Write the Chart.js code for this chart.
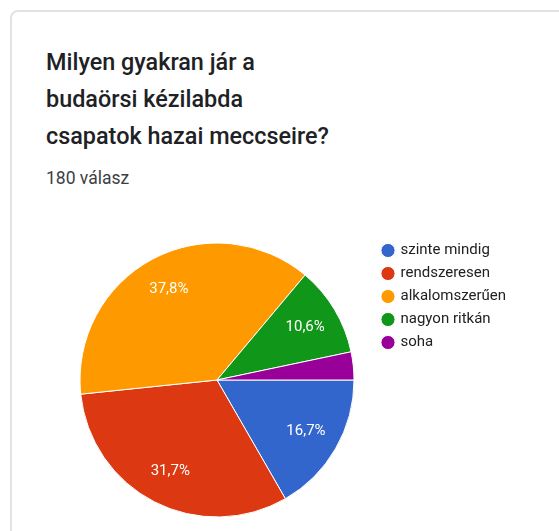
<!DOCTYPE html>
<html>
<head>
<meta charset="utf-8">
<script src="https://cdn.jsdelivr.net/npm/chart.js@4"></script>
<style>
  html, body { margin: 0; padding: 0; background: #fff; }
  body { width: 559px; height: 531px; position: relative; overflow: hidden; font-family: Roboto, "Noto Sans", sans-serif; }
  .kartya { position: absolute; left: 10px; top: 10px; width: 600px; height: 600px; border: 2px solid #e2e2e2; border-radius: 8px 0 0 0; box-sizing: border-box; }
  .cim { position: absolute; left: 46px; top: 44px; margin: 0; font-size: 23.4px; font-weight: 500; line-height: 37px; color: #202124; }
  .valasz { position: absolute; left: 46px; top: 168px; font-size: 17.5px; color: #3c4043; }
  #tarto { position: absolute; left: 59px; top: 235px; width: 500px; height: 290px; }
</style>
</head>
<body>
<div class="kartya"></div>
<h1 class="cim">Milyen gyakran jár a<br>budaörsi kézilabda<br>csapatok hazai meccseire?</h1>
<div class="valasz">180 válasz</div>
<div id="tarto"><canvas id="kor"></canvas></div>
<script>
// valaszok
const kategoriak = ['szinte mindig', 'rendszeresen', 'alkalomszerűen', 'nagyon ritkán', 'soha']
const szazalek = [16.7, 31.7, 37.8, 10.6, 3.3]
const szinek = ['#3366cc', '#dc3912', '#ff9900', '#109618', '#990099']

// jelmagyarazat szelessege, hogy a kor a helyen maradjon
const betuMeret = 15
const meres = document.createElement('canvas').getContext('2d')
meres.font = betuMeret + 'px Roboto, sans-serif'
let leghosszabb = 0
kategoriak.forEach(k => { leghosszabb = Math.max(leghosszabb, meres.measureText(k).width) })
const jelmagyarazat = 8 + 10 + betuMeret / 2 + leghosszabb + 10
const jobbMargo = Math.max(0, 500 - 316 - jelmagyarazat)

// szazalek felirat a szeletek belsejebe
const feliratok = {
    id: 'feliratok',
    afterDatasetsDraw(chart) {
        const c = chart.ctx
        const meta = chart.getDatasetMeta(0)
        c.save()
        c.fillStyle = '#fff'
        c.font = '15px Roboto, sans-serif'
        c.textAlign = 'center'
        c.textBaseline = 'middle'
        meta.data.forEach((arc, i) => {
            if (szazalek[i] < 5) return
            const szog = (arc.startAngle + arc.endAngle) / 2
            const r = arc.outerRadius * 0.75
            const x = arc.x + Math.cos(szog) * r
            const y = arc.y + Math.sin(szog) * r
            c.fillText(String(szazalek[i]).replace('.', ',') + '%', x, y)
        })
        c.restore()
    }
}

new Chart(document.getElementById('kor'), {
    type: 'pie',
    data: {
        labels: kategoriak,
        datasets: [{
            data: szazalek,
            backgroundColor: szinek,
            borderColor: '#fff',
            borderWidth: 1
        }]
    },
    options: {
        responsive: true,
        maintainAspectRatio: false,
        animation: false,
        rotation: 90,
        radius: 137,
        layout: { padding: { right: jobbMargo } },
        plugins: {
            tooltip: { enabled: false },
            legend: {
                position: 'right',
                align: 'start',
                labels: {
                    usePointStyle: true,
                    pointStyle: 'circle',
                    boxWidth: 10,
                    boxHeight: 10,
                    padding: 8,
                    color: '#202124',
                    font: { family: 'Roboto, sans-serif', size: betuMeret }
                }
            }
        }
    },
    plugins: [feliratok]
})
</script>
</body>
</html>
